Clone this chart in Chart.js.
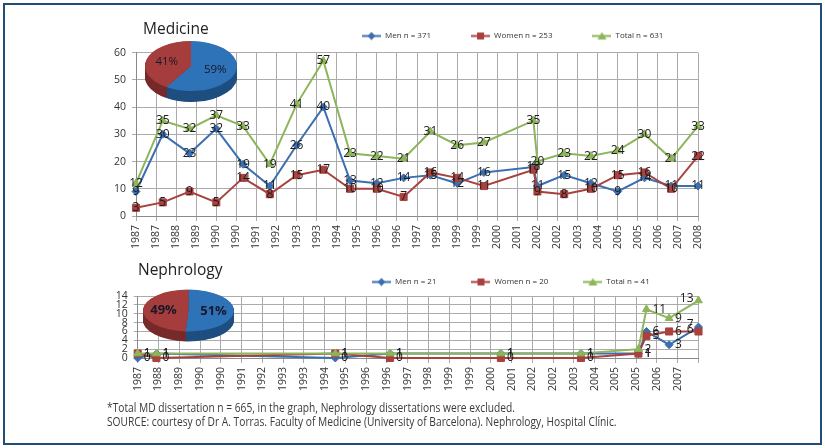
<!DOCTYPE html>
<html><head><meta charset="utf-8">
<script src="https://cdn.jsdelivr.net/npm/chart.js@4.4.0/dist/chart.umd.min.js"></script>
<style>
html,body{margin:0;padding:0;background:#fff;}
#wrap{position:relative;width:825px;height:448px;overflow:hidden;background:#fff;font-family:"Open Sans",sans-serif;}
#frame{position:absolute;left:3px;top:3px;width:819px;height:442px;border:2px solid #1f4e79;box-sizing:border-box;}
canvas{position:absolute;}
#note{position:absolute;left:107px;top:401px;font-size:12px;line-height:14px;color:#3a3a3a;white-space:nowrap;transform-origin:0 0;}
#note span{display:inline-block;}
</style></head><body>
<div id="wrap">
<div id="frame"></div>
<canvas id="med" width="825" height="255" style="left:0;top:0;width:825px;height:255px"></canvas>
<canvas id="nep" width="825" height="150" style="left:0;top:250px;width:825px;height:150px"></canvas>
<canvas id="medPieSide" width="96" height="112" style="left:143px;top:18px;width:96px;height:112px"></canvas>
<canvas id="medPieTop" width="96" height="112" style="left:143px;top:18px;width:96px;height:112px"></canvas>
<canvas id="nepPieSide" width="95" height="111" style="left:141px;top:263px;width:95px;height:111px"></canvas>
<canvas id="nepPieTop" width="95" height="111" style="left:141px;top:263px;width:95px;height:111px"></canvas>
<div id="note"><span id="l1">*Total MD dissertation n = 665, in the graph, Nephrology dissertations were excluded.</span><br><span id="l2">SOURCE: courtesy of Dr A. Torras. Faculty of Medicine (University of Barcelona). Nephrology, Hospital Clínic.</span></div>
</div>
<script>
// ---------- DATA ----------
const medTickLabels = ['1987','1987','1988','1989','1990','1990','1991','1992','1993','1993','1994','1995','1996','1996','1997','1998','1999','1999','2000','2001','2002','2002','2003','2004','2005','2005','2006','2007','2008'];
const medYears = [1987,1988,1989,1990,1991,1992,1993,1994,1995,1996,1997,1998,1999,2000,2001.85,2002,2003,2004,2005,2006,2007,2008];
const medMen   = [9,30,23,32,19,11,26,40,13,12,14,15,12,16,18,11,15,12,9,14,11,11];
const medWomen = [3,5,9,5,14,8,15,17,10,10,7,16,14,11,17,9,8,10,15,16,10,22];
const medTotal = [12,35,32,37,33,19,41,57,23,22,21,31,26,27,35,20,23,22,24,30,21,33];
const medLegend = ['Men n = 371','Women n = 253','Total n = 631'];
const medShares = [59,41];

const nepTickLabels = ['1987','1988','1989','1990','1990','1991','1992','1993','1993','1994','1995','1996','1996','1997','1998','1999','1999','2000','2001','2002','2002','2003','2004','2005','2005','2006','2007',''];
const nepYears = [1987,1987.7,1994.4,1996.45,2000.6,2003.6,2005.75,2006.05,2006.9,2008];
const nepMen   = [0,1,0,1,1,1,1,6,3,7];
const nepWomen = [1,0,1,0,0,0,1,5,6,6];
const nepTotal = [1,1,1,1,1,1,2,11,9,13];
const nepLegend = ['Men n = 21','Women n = 20','Total n = 41'];
const nepShares = [51,49];

// ---------- STYLE ----------
const MEN = '#3b6fb0', WOMEN = '#a8423f', TOTAL = '#8db559';
const GRID = '#ababab', AXIS = '#8a8a8a', TXT = '#333333';
Chart.defaults.font.family = "'Open Sans', sans-serif";

function swatch(color, style) {
  const c = document.createElement('canvas'); c.width = 19; c.height = 9;
  const g = c.getContext('2d');
  g.strokeStyle = color; g.lineWidth = 2;
  g.beginPath(); g.moveTo(0, 4.5); g.lineTo(19, 4.5); g.stroke();
  g.fillStyle = color; g.beginPath();
  const cx = 9.5, cy = 4.5;
  if (style === 'rectRot') { g.moveTo(cx, cy-4); g.lineTo(cx+4, cy); g.lineTo(cx, cy+4); g.lineTo(cx-4, cy); }
  else if (style === 'rect') { g.rect(cx-3.5, cy-3.5, 7, 7); }
  else { g.moveTo(cx, cy-4); g.lineTo(cx+4.5, cy+3.5); g.lineTo(cx-4.5, cy+3.5); }
  g.closePath(); g.fill();
  return c;
}
const swatches = [swatch(MEN,'rectRot'), swatch(WOMEN,'rect'), swatch(TOTAL,'triangle')];

const placePlugin = {
  id: 'place',
  afterLayout(chart, args, o) {
    const t = chart.titleBlock;
    if (t) { t.left = o.titleX; t.right = o.titleX + 300; t.top = o.titleTop; t.bottom = o.titleTop + t.height; }
    const l = chart.legend;
    if (l) { const p = l.options.labels.padding; l.left = o.legendX - p; l.right = l.left + 600; l.top = o.legendMid - 4 - p; l.bottom = o.legendMid + 12; }
  }
};

const ptLabelPlugin = {
  id: 'ptLabels',
  afterDatasetsDraw(chart, args, o) {
    const ctx = chart.ctx; ctx.save();
    ctx.font = o.size + "px 'Open Sans', sans-serif"; ctx.fillStyle = '#1c1c1c'; ctx.textBaseline = 'middle';
    chart.data.datasets.forEach((ds, di) => {
      const meta = chart.getDatasetMeta(di);
      meta.data.forEach((pt, i) => {
        const txt = String(ds.data[i].y);
        if (o.mode === 'center') { ctx.textAlign = 'center'; ctx.fillText(txt, pt.x, pt.y); }
        else {
          const w = ctx.measureText(txt).width;
          if (pt.x + 7 + w > chart.chartArea.right + 3) { ctx.textAlign = 'right'; ctx.fillText(txt, pt.x - 5, pt.y - 2); }
          else { ctx.textAlign = 'left'; ctx.fillText(txt, pt.x + 6, pt.y); }
        }
      });
    });
    ctx.restore();
  }
};

function series(label, xs, ys, color, style, radius, order) {
  return { label, data: xs.map((x, i) => ({x, y: ys[i]})), borderColor: color, backgroundColor: color,
    borderWidth: 2, pointStyle: style, pointRadius: radius, pointBorderWidth: 1, pointBorderColor: color,
    pointBackgroundColor: color, tension: 0, order, clip: 10 };
}

function lineChart(id, c) {
  const step = (c.xMax - c.xMin) / (c.ticks.length - 1);
  return new Chart(document.getElementById(id), {
    type: 'line',
    data: { datasets: [
      series(c.legend[0], c.years, c.men, MEN, 'rectRot', 4, 2),
      series(c.legend[1], c.years, c.women, WOMEN, 'rect', 5, 1),
      series(c.legend[2], c.years, c.total, TOTAL, 'triangle', 4.5, 0)
    ]},
    options: {
      responsive: false, animation: false, events: [],
      layout: { padding: { left: 0, right: c.padRight, top: c.padTop, bottom: 0 } },
      scales: {
        x: { type: 'linear', min: c.xMin, max: c.xMax,
          afterBuildTicks: ax => { ax.ticks = c.ticks.map((l, i) => ({ value: c.xMin + i * step })); },
          afterFit: s => { s.height = c.xHeight; },
          ticks: { autoSkip: false, minRotation: 90, maxRotation: 90, padding: 4, color: TXT, font: { size: 10.5 },
            callback: (v, i) => c.ticks[i] },
          grid: { color: GRID, lineWidth: 1, tickLength: 5 },
          border: { color: AXIS } },
        y: { min: 0, max: c.yMax,
          afterFit: s => { s.width = c.yWidth; },
          ticks: { stepSize: c.yStep, autoSkip: false, padding: 6, color: TXT, font: { size: 10.5 } },
          grid: { color: GRID, lineWidth: 1, tickLength: 4 },
          border: { color: AXIS } }
      },
      plugins: {
        title: { display: true, text: c.title, align: 'start', padding: 0, color: '#222', font: { size: 15.5, weight: 'normal' } },
        legend: { display: true, position: 'top', align: 'start', maxHeight: 10,
          labels: { usePointStyle: true, pointStyleWidth: 19, padding: c.legendPad, color: TXT, font: { size: 8 },
            generateLabels: chart => {
              const items = Chart.defaults.plugins.legend.labels.generateLabels(chart);
              items.sort((a, b) => a.datasetIndex - b.datasetIndex);
              items.forEach(it => { it.pointStyle = swatches[it.datasetIndex]; });
              return items;
            } } },
        tooltip: { enabled: false },
        place: { titleX: c.titleX, titleTop: c.titleTop, legendX: c.legendX, legendMid: c.legendMid },
        ptLabels: { mode: c.labelMode, size: c.labelSize }
      }
    },
    plugins: [placePlugin, ptLabelPlugin]
  });
}

lineChart('med', { title: 'Medicine', ticks: medTickLabels, years: medYears, men: medMen, women: medWomen, total: medTotal,
  legend: medLegend, xMin: 1987, xMax: 2008, yMax: 60, yStep: 10, padRight: 127, padTop: 24, xHeight: 39, yWidth: 136,
  titleX: 143, titleTop: 20, legendX: 362, legendMid: 36, legendPad: 40, labelMode: 'center', labelSize: 12 });

lineChart('nep', { title: 'Nephrology', ticks: nepTickLabels, years: nepYears, men: nepMen, women: nepWomen, total: nepTotal,
  legend: nepLegend, xMin: 1987, xMax: 2008, yMax: 14, yStep: 2, padRight: 126.5, padTop: 17.5, xHeight: 42, yWidth: 137.7,
  titleX: 138, titleTop: 11.5, legendX: 372, legendMid: 32, legendPad: 35, labelMode: 'right', labelSize: 12 });

// ---------- PIES ----------
const ellipsePlugin = {
  id: 'ellipse',
  beforeDatasetsDraw(chart, args, o) {
    const ctx = chart.ctx, meta = chart.getDatasetMeta(0);
    const cx = meta.data[0].x, cy = meta.data[0].y;
    if (o.depth) {
      for (let d = o.depth; d >= 0.5; d -= 0.5) {
        ctx.save(); ctx.translate(0, d); ctx.translate(cx, cy); ctx.scale(1, o.ratio); ctx.translate(-cx, -cy);
        meta.data.forEach(el => el.draw(ctx));
        ctx.restore();
      }
      return false;
    }
    ctx.save(); ctx.translate(cx, cy); ctx.scale(1, o.ratio); ctx.translate(-cx, -cy);
  },
  afterDatasetsDraw(chart, args, o) {
    if (o.depth) return;
    const ctx = chart.ctx; ctx.restore();
    const meta = chart.getDatasetMeta(0), ds = chart.data.datasets[0];
    ctx.save(); ctx.font = o.font; ctx.fillStyle = '#18182a'; ctx.textAlign = 'center'; ctx.textBaseline = 'middle';
    meta.data.forEach((a, i) => {
      const m = (a.startAngle + a.endAngle) / 2, r = a.outerRadius * o.labelR;
      ctx.fillText(ds.data[i] + '%', a.x + Math.cos(m) * r, a.y + Math.sin(m) * r * o.ratio);
    });
    ctx.restore();
  }
};

function pie(id, values, colors, opts) {
  return new Chart(document.getElementById(id), {
    type: 'pie',
    data: { labels: ['Men', 'Women'], datasets: [{ data: values, backgroundColor: colors, borderWidth: 0, hoverOffset: 0, offset: 0 }] },
    options: { responsive: false, animation: false, events: [],
      layout: { padding: { left: 2, right: 2, top: 2, bottom: 18 } },
      plugins: { legend: { display: false }, tooltip: { enabled: false }, ellipse: opts } },
    plugins: [ellipsePlugin]
  });
}
pie('medPieSide', medShares, ['#1f4f80', '#782b2b'], { ratio: 0.543, depth: 11 });
pie('medPieTop', medShares, ['#2e72b8', '#a63d3d'], { ratio: 0.543, depth: 0, labelR: 0.55, font: "11.5px 'Open Sans', sans-serif" });
pie('nepPieSide', nepShares, ['#1f4f80', '#782b2b'], { ratio: 0.46, depth: 10 });
pie('nepPieTop', nepShares, ['#2e72b8', '#a63d3d'], { ratio: 0.46, depth: 0, labelR: 0.55, font: "bold 13px 'Open Sans', sans-serif" });

// footnote width fit
const w1 = document.getElementById('l1').getBoundingClientRect().width;
document.getElementById('note').style.transform = 'scaleX(' + (408 / w1) + ')';
</script>
</body></html>
